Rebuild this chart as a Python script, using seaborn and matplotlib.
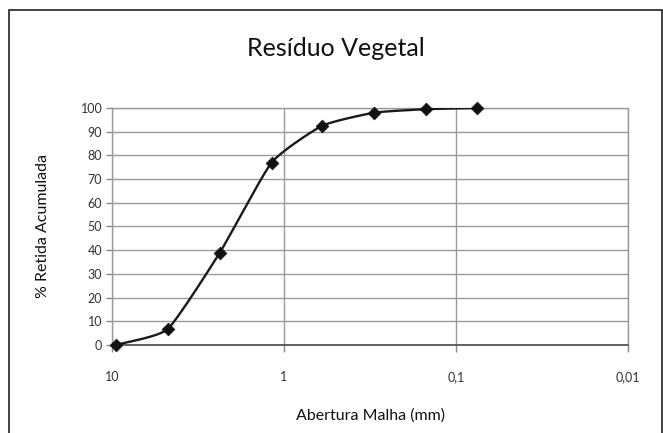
import numpy as np
import pandas as pd
import matplotlib
matplotlib.use("Agg")
import matplotlib.pyplot as plt
import seaborn as sns
from matplotlib.patches import Rectangle
from matplotlib.ticker import FixedLocator, FixedFormatter, NullLocator

# sieve openings (mm) and cumulative retained (%)
abertura = [9.5, 4.75, 2.36, 1.18, 0.6, 0.3, 0.15, 0.075]
retida = [0, 6.7, 39, 77, 92.5, 98, 99.5, 100]
x_ticks = [10, 1, 0.1, 0.01]
x_labels = ["10", "1", "0,1", "0,01"]
y_ticks = list(range(0, 101, 10))

df = pd.DataFrame({"abertura": abertura, "retida": retida})


def smooth(xs, ys, n=30, tension=0.5):
    # cardinal spline in log-x space (like a spreadsheet "smoothed line")
    lx = np.log10(xs)
    ys = np.asarray(ys, float)
    px = np.concatenate([[2 * lx[0] - lx[1]], lx, [2 * lx[-1] - lx[-2]]])
    py = np.concatenate([[2 * ys[0] - ys[1]], ys, [2 * ys[-1] - ys[-2]]])
    t = np.linspace(0, 1, n)
    h00 = 2 * t**3 - 3 * t**2 + 1
    h10 = t**3 - 2 * t**2 + t
    h01 = -2 * t**3 + 3 * t**2
    h11 = t**3 - t**2
    out_x, out_y = [], []
    for i in range(1, len(px) - 2):
        for p, out in ((px, out_x), (py, out_y)):
            m1 = tension * (p[i + 1] - p[i - 1]) / 2
            m2 = tension * (p[i + 2] - p[i]) / 2
            out.extend(h00 * p[i] + h10 * m1 + h01 * p[i + 1] + h11 * m2)
    return 10 ** np.array(out_x), np.array(out_y)


sns.set_theme(style="white")
plt.rcParams["font.family"] = ["Lato", "DejaVu Sans"]

fig = plt.figure(figsize=(6.63, 4.33), dpi=100)
ax = fig.add_axes([112 / 663, 1 - 345 / 433, 516 / 663, 237 / 433])

sx, sy = smooth(df["abertura"].values, df["retida"].values)
smooth_df = pd.DataFrame({"abertura": sx, "retida": sy})
sns.lineplot(data=smooth_df, x="abertura", y="retida", ax=ax, color="#1a1a1a",
             linewidth=1.7, sort=False, zorder=3)
sns.scatterplot(data=df, x="abertura", y="retida", ax=ax, marker="D", s=42,
                color="#111111", edgecolor="#111111", zorder=4, clip_on=False)

ax.set_xscale("log")
ax.set_xlim(10, 0.01)
ax.set_ylim(0, 100)
ax.xaxis.set_major_locator(FixedLocator(x_ticks))
ax.xaxis.set_major_formatter(FixedFormatter(x_labels))
ax.xaxis.set_minor_locator(NullLocator())
ax.set_yticks(y_ticks)
ax.set_yticklabels([str(v) for v in y_ticks])

ax.grid(True, color="#9a9a9a", linewidth=1.0)
for side in ["top", "right", "left"]:
    ax.spines[side].set_color("#9a9a9a")
    ax.spines[side].set_linewidth(1.0)
ax.spines["bottom"].set_color("#555555")
ax.spines["bottom"].set_linewidth(1.3)

ax.tick_params(axis="x", which="major", bottom=True, length=5, width=1,
               color="#888888", labelsize=9, labelcolor="#333333", pad=14)
ax.tick_params(axis="y", which="major", left=True, length=4, width=1,
               color="#888888", labelsize=9, labelcolor="#333333", pad=3)

ax.set_xlabel("Abertura Malha (mm)", fontsize=11.5, color="#111111", labelpad=18)
ax.set_ylabel("% Retida Acumulada", fontsize=11.5, color="#111111", labelpad=22)
fig.text(336 / 663, 1 - 48 / 433, "Resíduo Vegetal", ha="center", va="center",
         fontsize=18, color="#111111")

# outer chart frame
fig.patches.append(Rectangle((9 / 663, -0.2), 653 / 663, 1.2 - 10 / 433,
                             transform=fig.transFigure, fill=False,
                             edgecolor="#222222", linewidth=1.2, clip_on=False))

fig.savefig("out.png", dpi=100)
